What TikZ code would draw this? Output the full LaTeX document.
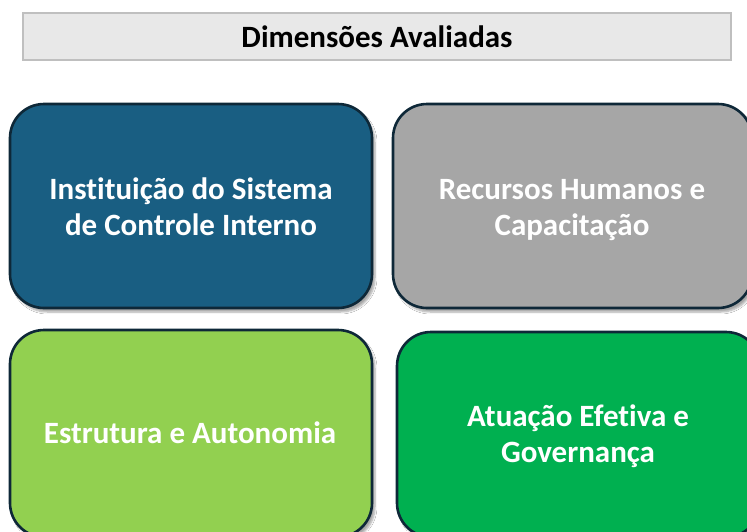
\documentclass[tikz,border=0pt]{standalone}
\usepackage{fontspec}
\setmainfont{Carlito}[Ligatures=NoCommon]
\usetikzlibrary{shadows.blur}
\definecolor{cblue}{HTML}{195E82}
\definecolor{cgrey}{HTML}{A6A6A6}
\definecolor{clight}{HTML}{92D050}
\definecolor{cgreen}{HTML}{00B050}
\definecolor{cborder}{HTML}{0E2838}
\definecolor{tfill}{HTML}{E8E8E8}
\definecolor{tborder}{HTML}{BFBFBF}
\tikzset{
  dimbox/.style={rounded corners=34pt, draw=cborder, line width=2.6pt,
    blur shadow={shadow xshift=3pt, shadow yshift=-4pt, shadow blur steps=6, shadow opacity=35}},
  dimtext/.style={text=white, font=\fontsize{31}{36}\selectfont\bfseries, align=center, inner sep=0pt},
  titlebox/.style={draw=tborder, fill=tfill, line width=1.6pt},
}
\begin{document}
\begin{tikzpicture}[x=1pt,y=-1pt]
\useasboundingbox (0,0) rectangle (747,531);
\clip (0,0) rectangle (747,531);
\fill[white] (0,0) rectangle (747,531);
% title
\draw[titlebox] (23,13) rectangle (731,60);
\node[font=\fontsize{31}{36}\selectfont\bfseries, text=black] (title) at (377,37) {Dimensões Avaliadas};
% boxes
\draw[dimbox, fill=cblue] (10,104) rectangle (372,308);
\draw[dimbox, fill=cgrey] (393,104) rectangle (752,308);
\draw[dimbox, fill=clight] (10,330) rectangle (372,537);
\draw[dimbox, fill=cgreen] (397,332) rectangle (760,537);
\node[dimtext] (t1) at (191,210) {\strut Instituição do Sistema\\\strut de Controle Interno};
\node[dimtext] (t2) at (572,210) {\strut Recursos Humanos e\\\strut Capacitação};
\node[dimtext] (t3) at (190,436) {\strut Estrutura e Autonomia};
\node[dimtext] (t4) at (578,437) {\strut Atuação Efetiva e\\\strut Governança};
\end{tikzpicture}
\end{document}
